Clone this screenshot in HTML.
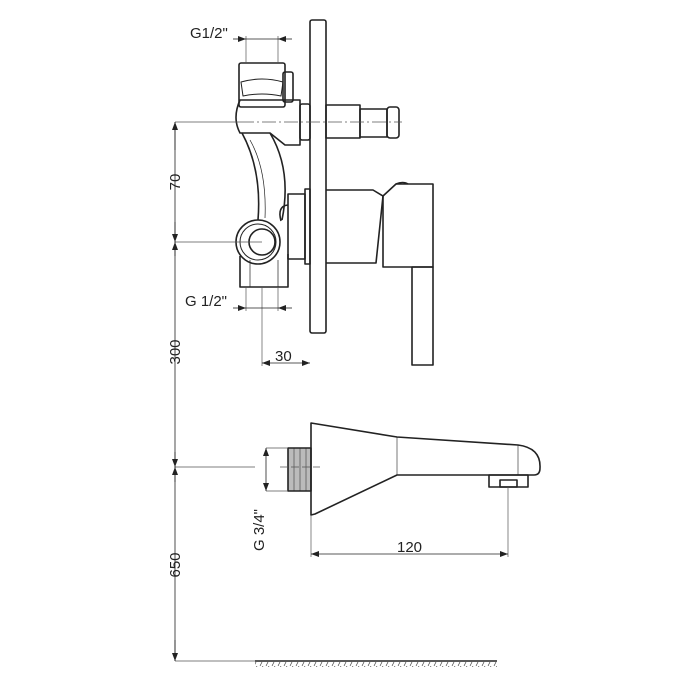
<!DOCTYPE html>
<html><head><style>html,body{margin:0;padding:0;background:#fff}svg{display:block}</style></head>
<body>
<svg width="700" height="700" viewBox="0 0 700 700" xmlns="http://www.w3.org/2000/svg">
<defs>
<marker id="a" markerWidth="8" markerHeight="6" refX="8" refY="3" orient="auto" markerUnits="userSpaceOnUse"><path d="M0,0 L8,3 L0,6 z" fill="#222"/></marker>
<pattern id="h" width="6" height="6" patternUnits="userSpaceOnUse"><path d="M5,0 L2,6" stroke="#444" stroke-width="0.7"/></pattern>
</defs>
<g fill="none" stroke="#222" stroke-width="1.6" stroke-linejoin="round">
<!-- wall plate -->
<rect x="310" y="20" width="16" height="313" rx="2"/>
<!-- stem -->
<rect x="326" y="105" width="34" height="33"/>
<rect x="360" y="109" width="27" height="28"/>
<rect x="387" y="107" width="12" height="31" rx="3"/>
<!-- handle body -->
<rect x="288" y="194" width="17" height="65"/>
<rect x="305" y="189" width="5" height="75"/>
<path d="M326,190 L373,190 L383,196 L376,263 L326,263"/>
<path d="M383,196 L396,184 L433,184 L433,267 L383,267 Z"/>
<path d="M396,184 Q403,181 408,184"/>
<rect x="412" y="267" width="21" height="98"/>
<!-- valve body -->
<rect x="239" y="63" width="46" height="44" rx="2"/>
<path d="M241,82 Q262,76 283,82 L281,96 Q262,92 243,96 Z" stroke-width="1"/>
<rect x="283" y="72" width="10" height="30" rx="2"/>
<path d="M240,100 L300,100 L300,145 L285,145 L270,133 L240,133 Q232,118 240,100 Z"/>
<rect x="300" y="104" width="10" height="36" rx="2"/>
<path d="M242,133 Q262,170 258,220 M270,133 Q292,170 282,220"/>
<path d="M250,140 Q267,170 265,218" stroke-width="0.7"/>
<circle cx="258" cy="242" r="22"/>
<circle cx="258" cy="242" r="18" stroke-width="1"/>
<circle cx="262" cy="242" r="13"/>
<path d="M281,221 Q277,206 288,205"/>
<path d="M240,256 L240,287 L288,287 L288,254"/>
<path d="M250,260 L250,287 M278,260 L278,287" stroke-width="0.7"/>
<!-- spout -->
<rect x="288" y="448" width="23" height="43" fill="#bbb"/>
<path d="M294,448 V491 M300,448 V491 M306,448 V491" stroke-width="0.5"/>
<path d="M311,423 Q355,430 397,437 L518,445 Q541,448 540,468 Q540,475 534,475 L397,475 L315,514 L311,515 Z"/>
<path d="M397,437 V475 M518,445 V475" stroke-width="0.6"/>
<rect x="489" y="475" width="39" height="12"/>
<rect x="500" y="480" width="17" height="7"/>
<!-- floor -->
<line x1="255" y1="661" x2="497" y2="661"/>
</g>
<rect x="255" y="662" width="242" height="5" fill="url(#h)"/>
<!-- thin lines -->
<g stroke="#555" stroke-width="0.7" fill="none">
<line x1="246" y1="36" x2="246" y2="63"/><line x1="278" y1="36" x2="278" y2="63"/>
<line x1="246" y1="287" x2="246" y2="311"/><line x1="278" y1="287" x2="278" y2="311"/>
<line x1="262" y1="287" x2="262" y2="366"/>
<line x1="175" y1="122" x2="240" y2="122"/>
<line x1="240" y1="122" x2="402" y2="122" stroke-dasharray="14,3,2,3"/>
<line x1="175" y1="242" x2="262" y2="242"/>
<line x1="175" y1="467" x2="255" y2="467"/>
<line x1="280" y1="467" x2="320" y2="467" stroke-dasharray="8,3"/>
<line x1="266" y1="448" x2="288" y2="448"/><line x1="266" y1="491" x2="288" y2="491"/>
<line x1="311" y1="515" x2="311" y2="557"/><line x1="508" y1="487" x2="508" y2="557"/>
<line x1="175" y1="661" x2="255" y2="661"/>
</g>
<g stroke="#222" stroke-width="0.8" fill="none">
<line x1="175" y1="122" x2="175" y2="661"/>
<line x1="233" y1="39" x2="246" y2="39" marker-end="url(#a)"/><line x1="292" y1="39" x2="278" y2="39" marker-end="url(#a)"/><line x1="246" y1="39" x2="278" y2="39"/>
<line x1="233" y1="308" x2="246" y2="308" marker-end="url(#a)"/><line x1="292" y1="308" x2="278" y2="308" marker-end="url(#a)"/><line x1="246" y1="308" x2="278" y2="308"/>
<line x1="286" y1="363" x2="262" y2="363" marker-end="url(#a)"/><line x1="286" y1="363" x2="310" y2="363" marker-end="url(#a)"/>
<line x1="175" y1="150" x2="175" y2="122" marker-end="url(#a)"/>
<line x1="175" y1="222" x2="175" y2="242" marker-end="url(#a)"/>
<line x1="175" y1="256" x2="175" y2="242" marker-end="url(#a)"/>
<line x1="175" y1="452" x2="175" y2="467" marker-end="url(#a)"/>
<line x1="175" y1="482" x2="175" y2="467" marker-end="url(#a)"/>
<line x1="175" y1="640" x2="175" y2="661" marker-end="url(#a)"/>
<line x1="266" y1="470" x2="266" y2="448" marker-end="url(#a)"/><line x1="266" y1="470" x2="266" y2="491" marker-end="url(#a)"/>
<line x1="410" y1="554" x2="311" y2="554" marker-end="url(#a)"/><line x1="410" y1="554" x2="508" y2="554" marker-end="url(#a)"/>
</g>
<g font-family="Liberation Sans, sans-serif" font-size="15" fill="#222">
<text x="190" y="38">G1/2"</text>
<text x="185" y="306">G 1/2"</text>
<text x="275" y="361">30</text>
<text x="397" y="552">120</text>
<text transform="translate(180,182) rotate(-90)" text-anchor="middle">70</text>
<text transform="translate(180,352) rotate(-90)" text-anchor="middle">300</text>
<text transform="translate(180,565) rotate(-90)" text-anchor="middle">650</text>
<text transform="translate(264,530) rotate(-90)" text-anchor="middle">G 3/4"</text>
</g>
</svg>
</body></html>
